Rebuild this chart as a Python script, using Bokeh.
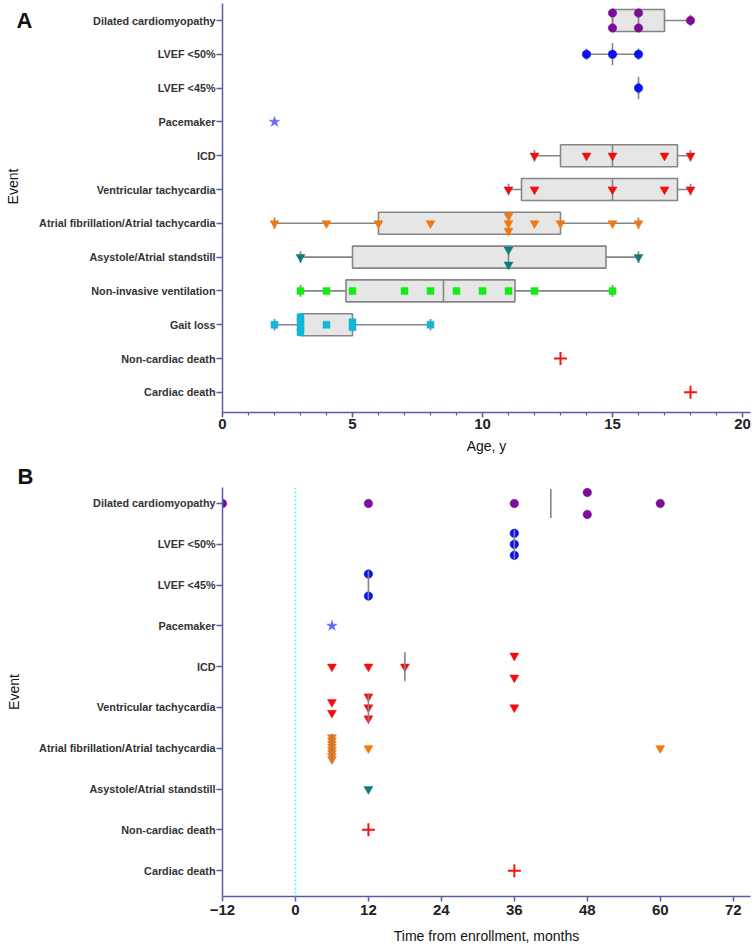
import numpy as np
from bokeh.plotting import figure
from bokeh.models import Range1d, FixedTicker, Span, Title
from bokeh.core.properties import value
from bokeh.layouts import column, row
from bokeh.embed import file_html
from bokeh.resources import INLINE

# ---------------- data ----------------
EVENTS_A = ["Dilated cardiomyopathy", "LVEF <50%", "LVEF <45%", "Pacemaker", "ICD",
            "Ventricular tachycardia", "Atrial fibrillation/Atrial tachycardia",
            "Asystole/Atrial standstill", "Non-invasive ventilation", "Gait loss",
            "Non-cardiac death", "Cardiac death"]
EVENTS_B = ["Dilated cardiomyopathy", "LVEF <50%", "LVEF <45%", "Pacemaker", "ICD",
            "Ventricular tachycardia", "Atrial fibrillation/Atrial tachycardia",
            "Asystole/Atrial standstill", "Non-cardiac death", "Cardiac death"]
AGE_TICKS = [0, 5, 10, 15, 20]
MONTH_TICKS = [-12, 0, 12, 24, 36, 48, 60, 72]

# Panel A: age at event (years)
age_dcm = [15, 15, 16, 16, 18]
age_lvef50 = [14, 15, 16]
age_lvef45 = [16]
age_pacemaker = [2]
age_icd = [12, 14, 15, 17, 18]
age_vt = [11, 12, 15, 17, 18]
age_af = [2, 4, 6, 8, 11, 11, 11, 12, 13, 15, 16]
age_asystole = [3, 11, 11, 16]
age_niv = [3, 4, 5, 7, 8, 9, 10, 11, 12, 15]
age_gait = [2, 3, 3, 3, 3, 4, 5, 5, 8]
age_noncardiac_death = [13]
age_cardiac_death = [18]

# Panel B: time from enrollment (months)
t_dcm = [-12, 12, 36, 48, 48, 60]
t_lvef50 = [36, 36, 36]
t_lvef45 = [12, 12]
t_pacemaker = [6]
t_icd = [6, 12, 18, 36, 36]
t_vt = [6, 6, 12, 12, 12, 36]
t_af = [6, 6, 6, 6, 6, 6, 6, 6, 12, 60]
t_asystole = [12]
t_noncardiac_death = [12]
t_cardiac_death = [36]

AGES = dict(zip(EVENTS_A, [age_dcm, age_lvef50, age_lvef45, age_pacemaker, age_icd, age_vt,
                           age_af, age_asystole, age_niv, age_gait,
                           age_noncardiac_death, age_cardiac_death]))
MONTHS = dict(zip(EVENTS_B, [t_dcm, t_lvef50, t_lvef45, t_pacemaker, t_icd, t_vt,
                             t_af, t_asystole, t_noncardiac_death, t_cardiac_death]))

# rows of panel A that get a box / range summary
SUMMARY_A = ["Dilated cardiomyopathy", "LVEF <50%", "LVEF <45%", "ICD",
             "Ventricular tachycardia", "Atrial fibrillation/Atrial tachycardia",
             "Asystole/Atrial standstill", "Non-invasive ventilation", "Gait loss"]

# ---------------- styles ----------------
FONT = "Liberation Sans"
AXIS_COLOR = "#5b5ca6"
GREY = "#858585"
BOX_FILL = "#e6e6e6"

STYLE = {
    "Dilated cardiomyopathy": dict(marker="circle", color="#780f96", size=8.5),
    "LVEF <50%": dict(marker="circle", color="#0b12f2", size=8.5),
    "LVEF <45%": dict(marker="circle", color="#0b12f2", size=8.5),
    "Pacemaker": dict(marker="star", color="#6767f2", size=11),
    "ICD": dict(marker="inverted_triangle", color="#f40c0c", size=9),
    "Ventricular tachycardia": dict(marker="inverted_triangle", color="#f40c0c", size=9),
    "Atrial fibrillation/Atrial tachycardia": dict(marker="inverted_triangle", color="#f5770c", size=9),
    "Asystole/Atrial standstill": dict(marker="inverted_triangle", color="#0c7c7c", size=9),
    "Non-invasive ventilation": dict(marker="square", color="#12ee12", size=7),
    "Gait loss": dict(marker="square", color="#12b6d6", size=7),
    "Non-cardiac death": dict(marker="cross", color="#f41414", size=13),
    "Cardiac death": dict(marker="cross", color="#f41414", size=13),
}

# layout geometry (pixels)
W = 754
STRIP = 34                              # left strip holding the "A" / "Event" texts
LEFT, RIGHT = 222, 4
FRAME_W = W - LEFT - RIGHT
A_TOP, A_FRAME, A_BOT = 3, 409, 48      # A frame: y 3 .. 412
B_TOP, B_FRAME, B_BOT = 27, 410, 49     # B frame: y 487 .. 897
A_H = A_TOP + A_FRAME + A_BOT
STEP_A, STEP_B = 33.8, 40.9             # px per category row
FIRST_A, FIRST_B = 17, 16               # px from frame top to first row

ya0 = -FIRST_A / STEP_A
ya1 = ya0 + A_FRAME / STEP_A
yb0 = -FIRST_B / STEP_B
yb1 = yb0 + B_FRAME / STEP_B

xa0, xa1 = 0, FRAME_W / 26.0
xb0, xb1 = -12, -12 + FRAME_W / 6.08

SPREAD_A = 7.5 / STEP_A
SPREAD_B = 11.0 / STEP_B
OVERRIDE_A = {("Gait loss", 5): 2.5 / STEP_A}
OVERRIDE_B = {("Ventricular tachycardia", 6): 5.5 / STEP_B}


def stack_offsets(name, values, spread, overrides):
    vals = np.asarray(values, float)
    off = np.zeros(len(vals))
    for v in np.unique(vals):
        idx = np.where(vals == v)[0]
        if len(idx) > 1:
            s = overrides.get((name, v), spread)
            off[idx] = np.linspace(-s, s, len(idx))
    return off


def style_axes(p, events, ticks, minor, xlabel, lab_standoff, title_standoff, ylabel):
    p.xaxis.ticker = FixedTicker(ticks=ticks, minor_ticks=minor)
    p.yaxis.ticker = FixedTicker(ticks=list(range(len(events))))
    p.yaxis.major_label_overrides = {i: e for i, e in enumerate(events)}
    for ax in (p.xaxis, p.yaxis):
        ax.axis_line_color = AXIS_COLOR
        ax.axis_line_width = 1.5
        ax.major_tick_line_color = AXIS_COLOR
        ax.major_tick_line_width = 1.5
        ax.minor_tick_line_color = AXIS_COLOR
        ax.minor_tick_line_width = 1.2
        ax.major_tick_in = 0
        ax.minor_tick_in = 0
        ax.major_label_text_font = FONT
        ax.major_label_text_font_style = "bold"
        ax.axis_label_text_font = FONT
        ax.axis_label_text_font_style = "normal"
        ax.axis_label_text_font_size = "14px"
        ax.axis_label_text_color = "#111111"
    p.yaxis.major_tick_out = 6
    p.yaxis.minor_tick_out = 0
    p.yaxis.major_label_text_font_size = "10.8px"
    p.yaxis.major_label_text_color = "#333333"
    p.yaxis.major_label_standoff = 1
    if ylabel:
        p.yaxis.axis_label = ylabel
        p.yaxis.axis_label_standoff = 14
    p.xaxis.major_tick_out = 5
    p.xaxis.minor_tick_out = 3
    p.xaxis.major_label_text_font_size = "15px"
    p.xaxis.major_label_text_color = "#222222"
    p.xaxis.major_label_standoff = lab_standoff
    p.xaxis.axis_label = xlabel
    p.xaxis.axis_label_standoff = title_standoff
    p.grid.visible = False
    p.outline_line_color = None


def draw_points(p, name, xs, ys):
    st = STYLE[name]
    if st["marker"] == "cross":
        p.scatter(xs, ys, marker="cross", size=st["size"], line_color=st["color"], line_width=2)
    else:
        p.scatter(xs, ys, marker=st["marker"], size=st["size"], fill_color=st["color"],
                  line_color=st["color"], line_width=0.5)


# ---------------- left strip of panel A (page-pixel coordinates) ----------------
strip = figure(width=STRIP, height=A_H, output_backend="svg", toolbar_location=None,
               x_axis_type=None, y_axis_type=None,
               x_range=Range1d(0, STRIP), y_range=Range1d(A_TOP + A_FRAME, A_TOP),
               min_border_left=0, min_border_right=0, min_border_top=A_TOP,
               min_border_bottom=A_BOT)
strip.grid.visible = False
strip.outline_line_color = None
strip.text(x=[16], y=[7], text=["A"], text_font=value(FONT), text_font_size="22px",
           text_font_style="bold", text_color="#111111", text_align="left", text_baseline="top")
strip.text(x=[12], y=[186], text=["Event"], angle=np.pi / 2, text_font=value(FONT),
           text_font_size="14px", text_color="#111111", text_align="center",
           text_baseline="middle")

# ---------------- panel A ----------------
pA = figure(width=W - STRIP, height=A_H, output_backend="svg",
            toolbar_location=None, x_range=Range1d(xa0, xa1), y_range=Range1d(ya1, ya0),
            min_border_left=LEFT - STRIP, min_border_right=RIGHT, min_border_top=A_TOP,
            min_border_bottom=A_BOT)
style_axes(pA, EVENTS_A, AGE_TICKS, list(range(0, 21)), "Age, y", 1, 6, None)

BOX_H = 11.0 / STEP_A
CAP_H = 5.8 / STEP_A
for i, name in enumerate(EVENTS_A):
    if name not in SUMMARY_A:
        continue
    v = np.asarray(AGES[name], float)
    lo, hi, med = v.min(), v.max(), np.median(v)
    if len(v) >= 4:
        q1 = np.percentile(v, 25, method="weibull")
        q3 = np.percentile(v, 75, method="weibull")
        pA.segment(x0=[lo, q3], y0=[i, i], x1=[q1, hi], y1=[i, i], line_color=GREY, line_width=1.6)
        pA.quad(left=[q1], right=[q3], bottom=[i + BOX_H], top=[i - BOX_H],
                fill_color=BOX_FILL, line_color=GREY, line_width=1.6)
        pA.segment(x0=[med], y0=[i - BOX_H], x1=[med], y1=[i + BOX_H], line_color=GREY, line_width=1.6)
    else:
        if hi > lo:
            pA.segment(x0=[lo], y0=[i], x1=[hi], y1=[i], line_color=GREY, line_width=1.6)
        pA.segment(x0=[med], y0=[i - BOX_H], x1=[med], y1=[i + BOX_H], line_color=GREY, line_width=1.6)
    pA.segment(x0=[lo, hi], y0=[i - CAP_H] * 2, x1=[lo, hi], y1=[i + CAP_H] * 2,
               line_color=GREY, line_width=1.6)

for i, name in enumerate(EVENTS_A):
    vals = AGES[name]
    ys = i + stack_offsets(name, vals, SPREAD_A, OVERRIDE_A)
    draw_points(pA, name, vals, list(ys))

# ---------------- panel B ----------------
pB = figure(width=W, height=B_TOP + B_FRAME + B_BOT, output_backend="svg",
            toolbar_location=None, x_range=Range1d(xb0, xb1), y_range=Range1d(yb1, yb0),
            min_border_left=LEFT, min_border_right=RIGHT, min_border_top=B_TOP,
            min_border_bottom=B_BOT)
style_axes(pB, EVENTS_B, MONTH_TICKS, [], "Time from enrollment, months", 3, 10, "Event")
pB.add_layout(Span(location=0, dimension="height", line_color="#5ff8f8",
                   line_dash="2 2", line_width=1.8))

MED_H = 14.5 / STEP_B
for i, name in enumerate(EVENTS_B):
    vals = MONTHS[name]
    ys = i + stack_offsets(name, vals, SPREAD_B, OVERRIDE_B)
    draw_points(pB, name, vals, list(ys))
for i, name in enumerate(EVENTS_B):
    v = np.asarray(MONTHS[name], float)
    if len(v) >= 2:
        med = np.median(v)
        pB.segment(x0=[med], y0=[i - MED_H], x1=[med], y1=[i + MED_H], line_color=GREY, line_width=1.6)

pB.title = Title(text="B", align="left", offset=17 - LEFT, standoff=-2, vertical_align="bottom",
                 text_font=FONT, text_font_size="22px", text_font_style="bold",
                 text_color="#111111")

layout = column(row(strip, pA), pB)
open("out.html", "w").write(file_html(layout, INLINE))
